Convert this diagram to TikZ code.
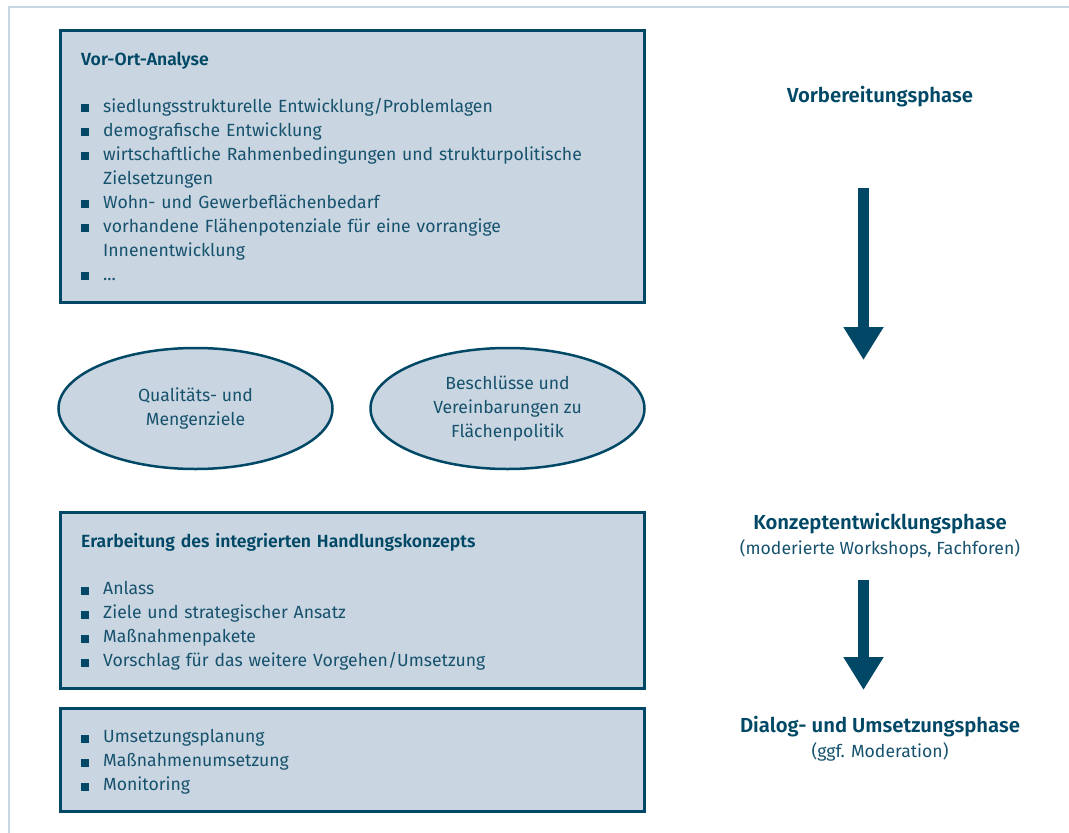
\documentclass[tikz,border=0pt]{standalone}
\usepackage{fontspec}
\setmainfont{Fira Sans}[BoldFont={Fira Sans SemiBold}]
\usepackage{xcolor}
\definecolor{dunkelblau}{RGB}{0,72,102}
\definecolor{textblau}{RGB}{22,82,110}
\definecolor{hellblau}{RGB}{201,213,224}
\definecolor{rahmen}{RGB}{198,216,229}
\usetikzlibrary{arrows.meta,shapes.geometric,positioning}
\tikzstyle{kasten}=[rectangle, draw=dunkelblau, fill=hellblau,
                    line width=2.5pt, inner sep=0pt, minimum width=584pt]
\tikzstyle{inhalt}=[anchor=north west, inner sep=0pt, text width=560pt,
                    align=left, text=textblau,
                    font=\fontsize{17.6}{24}\selectfont]
\tikzstyle{oval}  =[ellipse, draw=dunkelblau, fill=hellblau,
                    line width=2.5pt, inner sep=0pt, minimum width=274pt,
                    minimum height=121pt, align=center, text=textblau,
                    font=\fontsize{17.6}{24}\selectfont]
\tikzstyle{phase} =[align=center, text=dunkelblau,
                    font=\fontsize{17.6}{25}\selectfont]
\tikzstyle{pfeil} =[dunkelblau, line width=11.6pt,
                    -{Triangle[width=38pt,length=33pt]}]
\newcommand{\titel}[1]{{\color{dunkelblau}\bfseries #1}\par\vspace{23pt}}
\newcommand{\punkt}[1]{\hangindent=22pt\hangafter=1\noindent
    \makebox[22pt][l]{\color{dunkelblau}\rule{8pt}{8pt}}#1\par}
\newcommand{\gross}[1]{{\fontsize{20.3}{25}\selectfont\bfseries #1}}

\begin{document}
\begin{tikzpicture}[x=1pt,y=-1pt]
    \useasboundingbox (0,0) rectangle (1069,833);
    \draw[rahmen, line width=2pt] (8.5,833) -- (8.5,7) -- (1069,7);

    % Kaesten links
    \node (vorort)[kasten, anchor=north west, minimum height=272pt] at (59,29) {};
    \node (konzept)[kasten, anchor=north west, minimum height=176pt] at (59,511) {};
    \node (umsetzung)[kasten, anchor=north west, minimum height=103pt] at (59,707) {};

    \node[inhalt, below right=22.5pt and 22pt of vorort.north west] {%
        \titel{Vor-Ort-Analyse}
        \punkt{siedlungsstrukturelle Entwicklung/Problemlagen}
        \punkt{demografische Entwicklung}
        \punkt{wirtschaftliche Rahmenbedingungen und strukturpolitische\newline Zielsetzungen}
        \punkt{Wohn- und Gewerbeflächenbedarf}
        \punkt{vorhandene Flähenpotenziale für eine vorrangige\newline Innenentwicklung}
        \punkt{...}};
    \node[inhalt, below right=22.5pt and 22pt of konzept.north west] {%
        \titel{Erarbeitung des integrierten Handlungskonzepts}
        \punkt{Anlass}
        \punkt{Ziele und strategischer Ansatz}
        \punkt{Maßnahmenpakete}
        \punkt{Vorschlag für das weitere Vorgehen/Umsetzung}};
    \node[inhalt, below right=22.5pt and 22pt of umsetzung.north west] {%
        \punkt{Umsetzungsplanung}
        \punkt{Maßnahmenumsetzung}
        \punkt{Monitoring}};

    % Ellipsen
    \node (ziele)[oval] at (195.5,408.5) {Qualitäts- und\\Mengenziele};
    \node (beschluss)[oval] at (507.5,408.5) {Beschlüsse und\\Vereinbarungen zu\\Flächenpolitik};

    % Phasen rechts
    \node (vorb)[phase] at (880,97) {\gross{Vorbereitungsphase}};
    \node (konz)[phase] at (880,536) {\gross{Konzeptentwicklungsphase}\\
        \color{textblau}(moderierte Workshops, Fachforen)};
    \node (dial)[phase] at (880,739) {\gross{Dialog- und Umsetzungsphase}\\
        \color{textblau}(ggf. Moderation)};

    \coordinate (p1a) at (863.5,188);
    \coordinate (p1b) at (863.5,360);
    \coordinate (p2a) at (863.5,580);
    \coordinate (p2b) at (863.5,690);
    \foreach \i/\j in {p1a/p1b,p2a/p2b}
        \draw [pfeil] (\i) -- (\j);
\end{tikzpicture}
\end{document}
